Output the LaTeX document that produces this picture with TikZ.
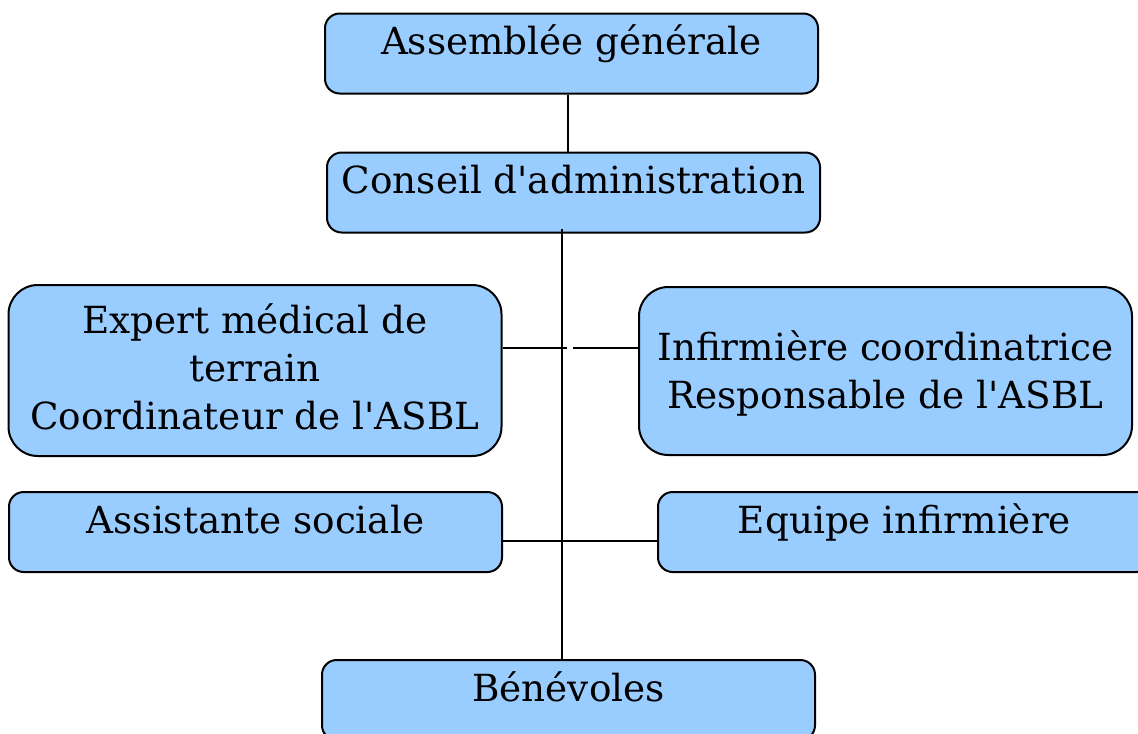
\documentclass[tikz,border=0pt]{standalone}
\usepackage{fontspec}
\setmainfont{DejaVu Serif}[Ligatures=TeXOff]
\begin{document}
\begin{tikzpicture}[x=0.75pt,y=-0.75pt,
  orgbox/.style={draw=black, line width=1.5pt, fill=boxblue, inner sep=0pt,
    font=\fontsize{28}{36}\selectfont, minimum width=369.75pt},
  single/.style={orgbox, rounded corners=11pt, minimum height=60pt,
    text height=30.75pt, text depth=29.25pt},
  conn/.style={line width=1.5pt, draw=black}]
\definecolor{boxblue}{HTML}{99CCFF}
\clip (0,0) rectangle (1138,733);
\fill[white] (0,0) rectangle (1138,733);

\node[single] (ag) at (571.5,53.5) {Assemblée générale};
\node[single] (ca) at (573.5,192.5) {Conseil d'administration};
\node[orgbox, rounded corners=22pt, minimum height=128.25pt,
  text height=36pt, text depth=92.25pt] (exp) at (255,370.5)
  {\begin{tabular}[t]{@{}c@{}}Expert médical de\\terrain\\Coordinateur de l'ASBL\end{tabular}};
\node[orgbox, rounded corners=22pt, minimum height=126pt,
  text height=54.75pt, text depth=71.25pt] (inf) at (885.5,371)
  {\begin{tabular}[t]{@{}c@{}}Infirmière coordinatrice\\Responsable de l'ASBL\end{tabular}};
\node[single] (as) at (255.5,532) {Assistante sociale};
\node[single] (eq) at (904.5,532) {Equipe infirmière};
\node[single] (ben) at (568.5,700) {Bénévoles};

\coordinate (u1) at (567.5,93);
\coordinate (t1) at (562,229);
\coordinate (h1) at (567,348);
\coordinate (h2) at (573,348);
\coordinate (h3) at (562,541);

\draw[conn] (u1 |- ag.south) -- (u1 |- ca.north);
\draw[conn] (t1) -- (t1 |- ben.north);
\draw[conn] (h1 -| exp.east) -- (h1);
\draw[conn] (h2) -- (h2 -| inf.west);
\draw[conn] (h3 -| as.east) -- (h3 -| eq.west);
\end{tikzpicture}
\end{document}
